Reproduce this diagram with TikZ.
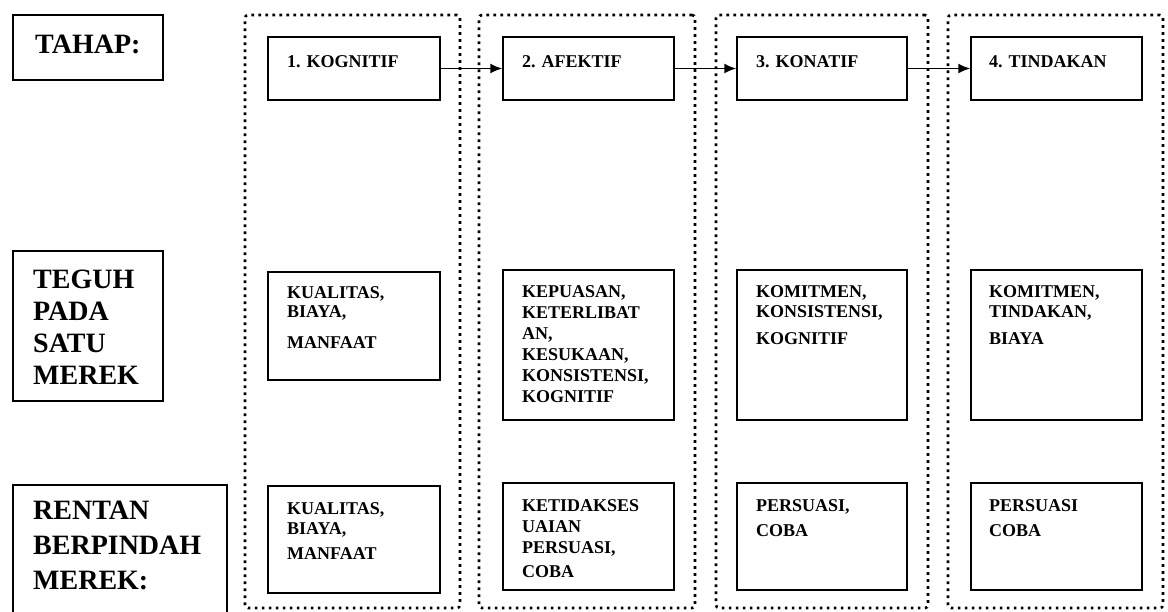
\documentclass[tikz,border=0pt]{standalone}
\usepackage{fontspec}
\setmainfont{Liberation Serif}
\usetikzlibrary{arrows.meta}
\begin{document}
\begin{tikzpicture}[x=1pt,y=-1pt,
  box/.style={draw, line width=1.4pt, inner sep=0pt},
  stage/.style={draw, line width=2.6pt, dash pattern=on 2.6pt off 4.4pt, rounded corners=3pt, inner sep=0pt},
  lbl/.style={anchor=base west, align=left, inner sep=0pt, font=\bfseries\fontsize{28}{32}\selectfont},
  txt/.style={anchor=base west, align=left, inner sep=0pt, font=\bfseries\fontsize{18}{21}\selectfont},
  arr/.style={-{Latex[length=12pt,width=10pt]}, line width=1.7pt}]
\useasboundingbox (0,0) rectangle (1168,611);
\clip (0,0) rectangle (1168,611);
% stage containers
\node[stage, minimum width=215pt, minimum height=593pt] (c1) at (352.5,311.5) {};
\node[stage, minimum width=216pt, minimum height=593pt] (c2) at (587,311.5) {};
\node[stage, minimum width=212pt, minimum height=593pt] (c3) at (822,311.5) {};
\node[stage, minimum width=215pt, minimum height=593pt] (c4) at (1055.5,311.5) {};
% row labels (anchor = baseline of last line)
\node[box, minimum width=150pt, minimum height=65pt] (tahap) at (88,47.5) {};
\node[lbl] (tahapT) at (35,53) {TAHAP:};
\node[box, minimum width=150pt, minimum height=150pt] (teguh) at (88,326) {};
\node[lbl] (teguhT) at (33,384) {TEGUH\\PADA\\SATU\\MEREK};
\node[box, minimum width=214pt, minimum height=140pt] (rentan) at (120,555) {};
\node[lbl, font=\bfseries\fontsize{28}{35}\selectfont] (rentanT) at (33,589) {RENTAN\\BERPINDAH\\MEREK:};
% row 1
\node[box, minimum width=172pt, minimum height=63pt] (k1) at (354,68.5) {};
\node[box, minimum width=171pt, minimum height=63pt] (k2) at (588.5,68.5) {};
\node[box, minimum width=170pt, minimum height=63pt] (k3) at (822,68.5) {};
\node[box, minimum width=171pt, minimum height=63pt] (k4) at (1056.5,68.5) {};
\node[txt] (k1T) at (287,67) {1. KOGNITIF};
\node[txt] (k2T) at (522,67) {2. AFEKTIF};
\node[txt] (k3T) at (756,67) {3. KONATIF};
\node[txt] (k4T) at (989,67) {4. TINDAKAN};
\draw[arr] (k1.east) -- (k2.west);
\draw[arr] (k2.east) -- (k3.west);
\draw[arr] (k3.east) -- (k4.west);
% row 2
\node[box, minimum width=172pt, minimum height=108pt] (t1) at (354,326) {};
\node[box, minimum width=171pt, minimum height=150pt] (t2) at (588.5,345) {};
\node[box, minimum width=170pt, minimum height=150pt] (t3) at (822,345) {};
\node[box, minimum width=171pt, minimum height=150pt] (t4) at (1056.5,345) {};
\node[txt, font=\bfseries\fontsize{18}{19}\selectfont] (t1T) at (287,348) {KUALITAS,\\BIAYA,\\[12pt]MANFAAT};
\node[txt] (t2T) at (522,402) {KEPUASAN,\\KETERLIBAT\\AN,\\KESUKAAN,\\KONSISTENSI,\\KOGNITIF};
\node[txt, font=\bfseries\fontsize{18}{20}\selectfont] (t3T) at (756,344) {KOMITMEN,\\KONSISTENSI,\\[7pt]KOGNITIF};
\node[txt, font=\bfseries\fontsize{18}{20}\selectfont] (t4T) at (989,344) {KOMITMEN,\\TINDAKAN,\\[7pt]BIAYA};
% row 3
\node[box, minimum width=172pt, minimum height=107pt] (r1) at (354,539.5) {};
\node[box, minimum width=171pt, minimum height=107pt] (r2) at (588.5,536.5) {};
\node[box, minimum width=170pt, minimum height=107pt] (r3) at (822,536.5) {};
\node[box, minimum width=171pt, minimum height=107pt] (r4) at (1056.5,536.5) {};
\node[txt, font=\bfseries\fontsize{18}{20}\selectfont] (r1T) at (287,559) {KUALITAS,\\BIAYA,\\[5pt]MANFAAT};
\node[txt] (r2T) at (522,577) {KETIDAKSES\\UAIAN\\PERSUASI,\\[3pt]COBA};
\node[txt, font=\bfseries\fontsize{18}{25}\selectfont] (r3T) at (756,536) {PERSUASI,\\COBA};
\node[txt, font=\bfseries\fontsize{18}{25}\selectfont] (r4T) at (989,536) {PERSUASI\\COBA};
\end{tikzpicture}
\end{document}
